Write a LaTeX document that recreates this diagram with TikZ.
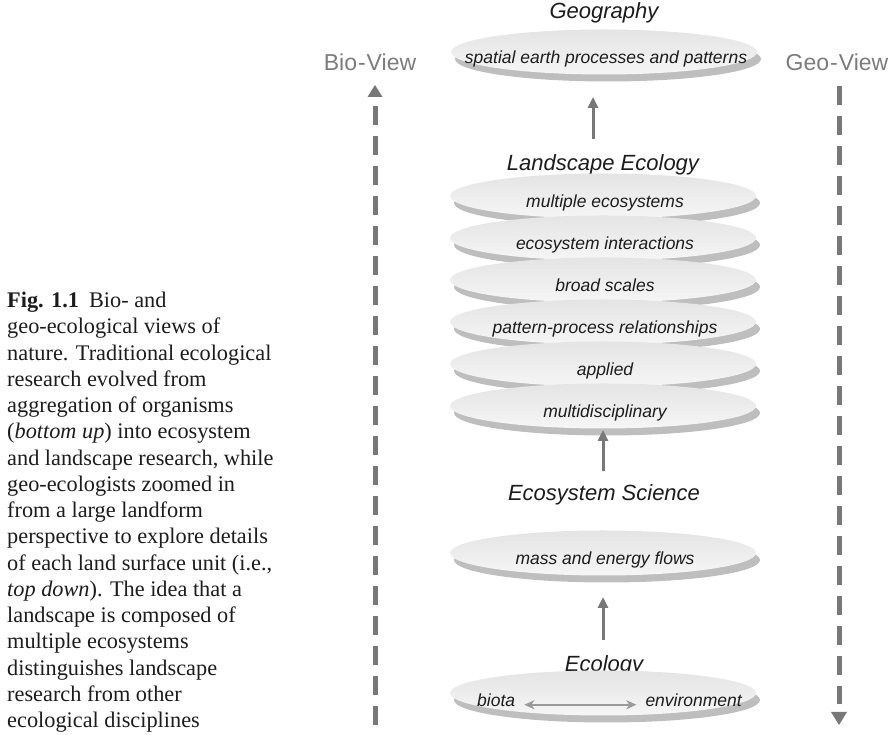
\documentclass[tikz,border=0pt]{standalone}
\usepackage{fontspec}
\setmainfont{Liberation Serif}
\setsansfont{Liberation Sans}
\usetikzlibrary{arrows.meta,shadows,shapes.geometric}

\definecolor{rim}{HTML}{BEBEBE}
\definecolor{facetop}{HTML}{E4E4E4}
\definecolor{facebot}{HTML}{F6F6F6}
\definecolor{arrowgray}{HTML}{787878}
\definecolor{thingray}{HTML}{9A9A9A}
\definecolor{viewgray}{HTML}{7C7C7C}
\definecolor{ink}{HTML}{1C1C1C}

\tikzset{
  disc/.style={ellipse, draw=none, minimum width=306pt, minimum height=45pt,
    inner sep=0pt, top color=facetop, bottom color=facebot,
    drop shadow={shadow xshift=4pt, shadow yshift=-7pt, fill=rim, opacity=1}},
  disctext/.style={anchor=base, inner sep=0pt, text=ink,
    font=\sffamily\itshape\fontsize{17.5}{20}\selectfont},
  title/.style={anchor=base, inner sep=0pt, text=ink,
    font=\sffamily\itshape\fontsize{22}{26}\selectfont},
  viewlabel/.style={anchor=base, inner sep=0pt, text=viewgray,
    font=\sffamily\fontsize{23}{26}\selectfont},
  uparrow/.style={draw=arrowgray, line width=3pt,
    -{Triangle[length=11pt,width=10pt]}},
  viewline/.style={draw=arrowgray, line width=5pt,
    dash pattern=on 19pt off 11pt},
  biarrow/.style={draw=thingray, line width=2pt,
    {Stealth[length=10pt,width=9pt,inset=3pt]}-{Stealth[length=10pt,width=9pt,inset=3pt]}},
  caption/.style={anchor=north west, align=left, inner sep=0pt, text=ink,
    font=\fontsize{22.3}{26.25}\selectfont},
}

\begin{document}
\begin{tikzpicture}[x=1pt,y=1pt]
\useasboundingbox (0,0) rectangle (893,735);

% caption
\node[caption] (cap) at (7,735-292) {%
  \textbf{Fig. 1.1}\hspace{0.45em}Bio- and\\
  geo-ecological views of\\
  nature. Traditional ecological\\
  research evolved from\\
  aggregation of organisms\\
  (\textit{bottom up}) into ecosystem\\
  and landscape research, while\\
  geo-ecologists zoomed in\\
  from a large landform\\
  perspective to explore details\\
  of each land surface unit (i.e.,\\
  \textit{top down}). The idea that a\\
  landscape is composed of\\
  multiple ecosystems\\
  distinguishes landscape\\
  research from other\\
  ecological disciplines};

% side views
\node[viewlabel] (bio) at (370,735-71) {Bio\kern1pt-\kern1ptView};
\node[viewlabel] (geo) at (837,735-71) {Geo\kern1pt-\kern1ptView};
\coordinate (bioBot) at (375,0);
\coordinate (bioTop) at (375,735-85);
\coordinate (geoTop) at (839,735-86);
\coordinate (geoBot) at (839,735-725);
\draw[viewline] (375,735-106) -- (bioBot);
\draw[viewline] (geoTop) -- (839,735-704);
\fill[arrowgray] (bioTop) -- ++(-7.5,-12) -- ++(15,0) -- cycle;
\fill[arrowgray] (geoBot) -- ++(-8,13) -- ++(16,0) -- cycle;

% Geography
\node[title] (tGeo) at (604,735-19) {Geography};
\node[disc] (dGeo) at (604,735-52) {};
\node[disctext] at (606,735-64) {spatial earth processes and patterns};

% Landscape Ecology
\node[title] (tLE) at (603,735-171) {Landscape Ecology};
\node[disc] (d1) at (603,735-196) {};
\node[disctext] at (605,735-208) {multiple ecosystems};
\node[disc] (d2) at (603,735-238) {};
\node[disctext] at (605,735-250) {ecosystem interactions};
\node[disc] (d3) at (603,735-280) {};
\node[disctext] at (605,735-292) {broad scales};
\node[disc] (d4) at (603,735-322) {};
\node[disctext] at (605,735-334) {pattern-process relationships};
\node[disc] (d5) at (603,735-364) {};
\node[disctext] at (605,735-376) {applied};
\node[disc] (d6) at (603,735-406) {};
\node[disctext] at (605,735-418) {multidisciplinary};

% Ecosystem Science
\node[title] (tES) at (604,735-501) {Ecosystem Science};
\node[disc] (dES) at (603,735-553) {};
\node[disctext] at (605,735-565) {mass and energy flows};

% Ecology: the disc is laid over the foot of its title
\node[title] (tEco) at (604,735-672) {Ecology};
\node[disc] (dEco) at (603,735-693) {};
\node[disctext, anchor=base west] (biota) at (477,735-707) {biota};
\node[disctext, anchor=base east] (env) at (742,735-707) {environment};

% upward links
\coordinate (g0) at (593,735-139);
\coordinate (g1) at (593,735-97);
\draw[uparrow] (g0) -- (g1);
\coordinate (l0) at (603,735-471);
\coordinate (l1) at (603,735-430);
\draw[uparrow] (l0) -- (l1);
\coordinate (e0) at (603,735-640);
\coordinate (e1) at (603,735-597);
\draw[uparrow] (e0) -- (e1);

% biota <-> environment
\draw[biarrow] ([xshift=9pt,yshift=-4pt]biota.east) -- ([xshift=-9pt,yshift=-4pt]env.west);
\end{tikzpicture}
\end{document}
